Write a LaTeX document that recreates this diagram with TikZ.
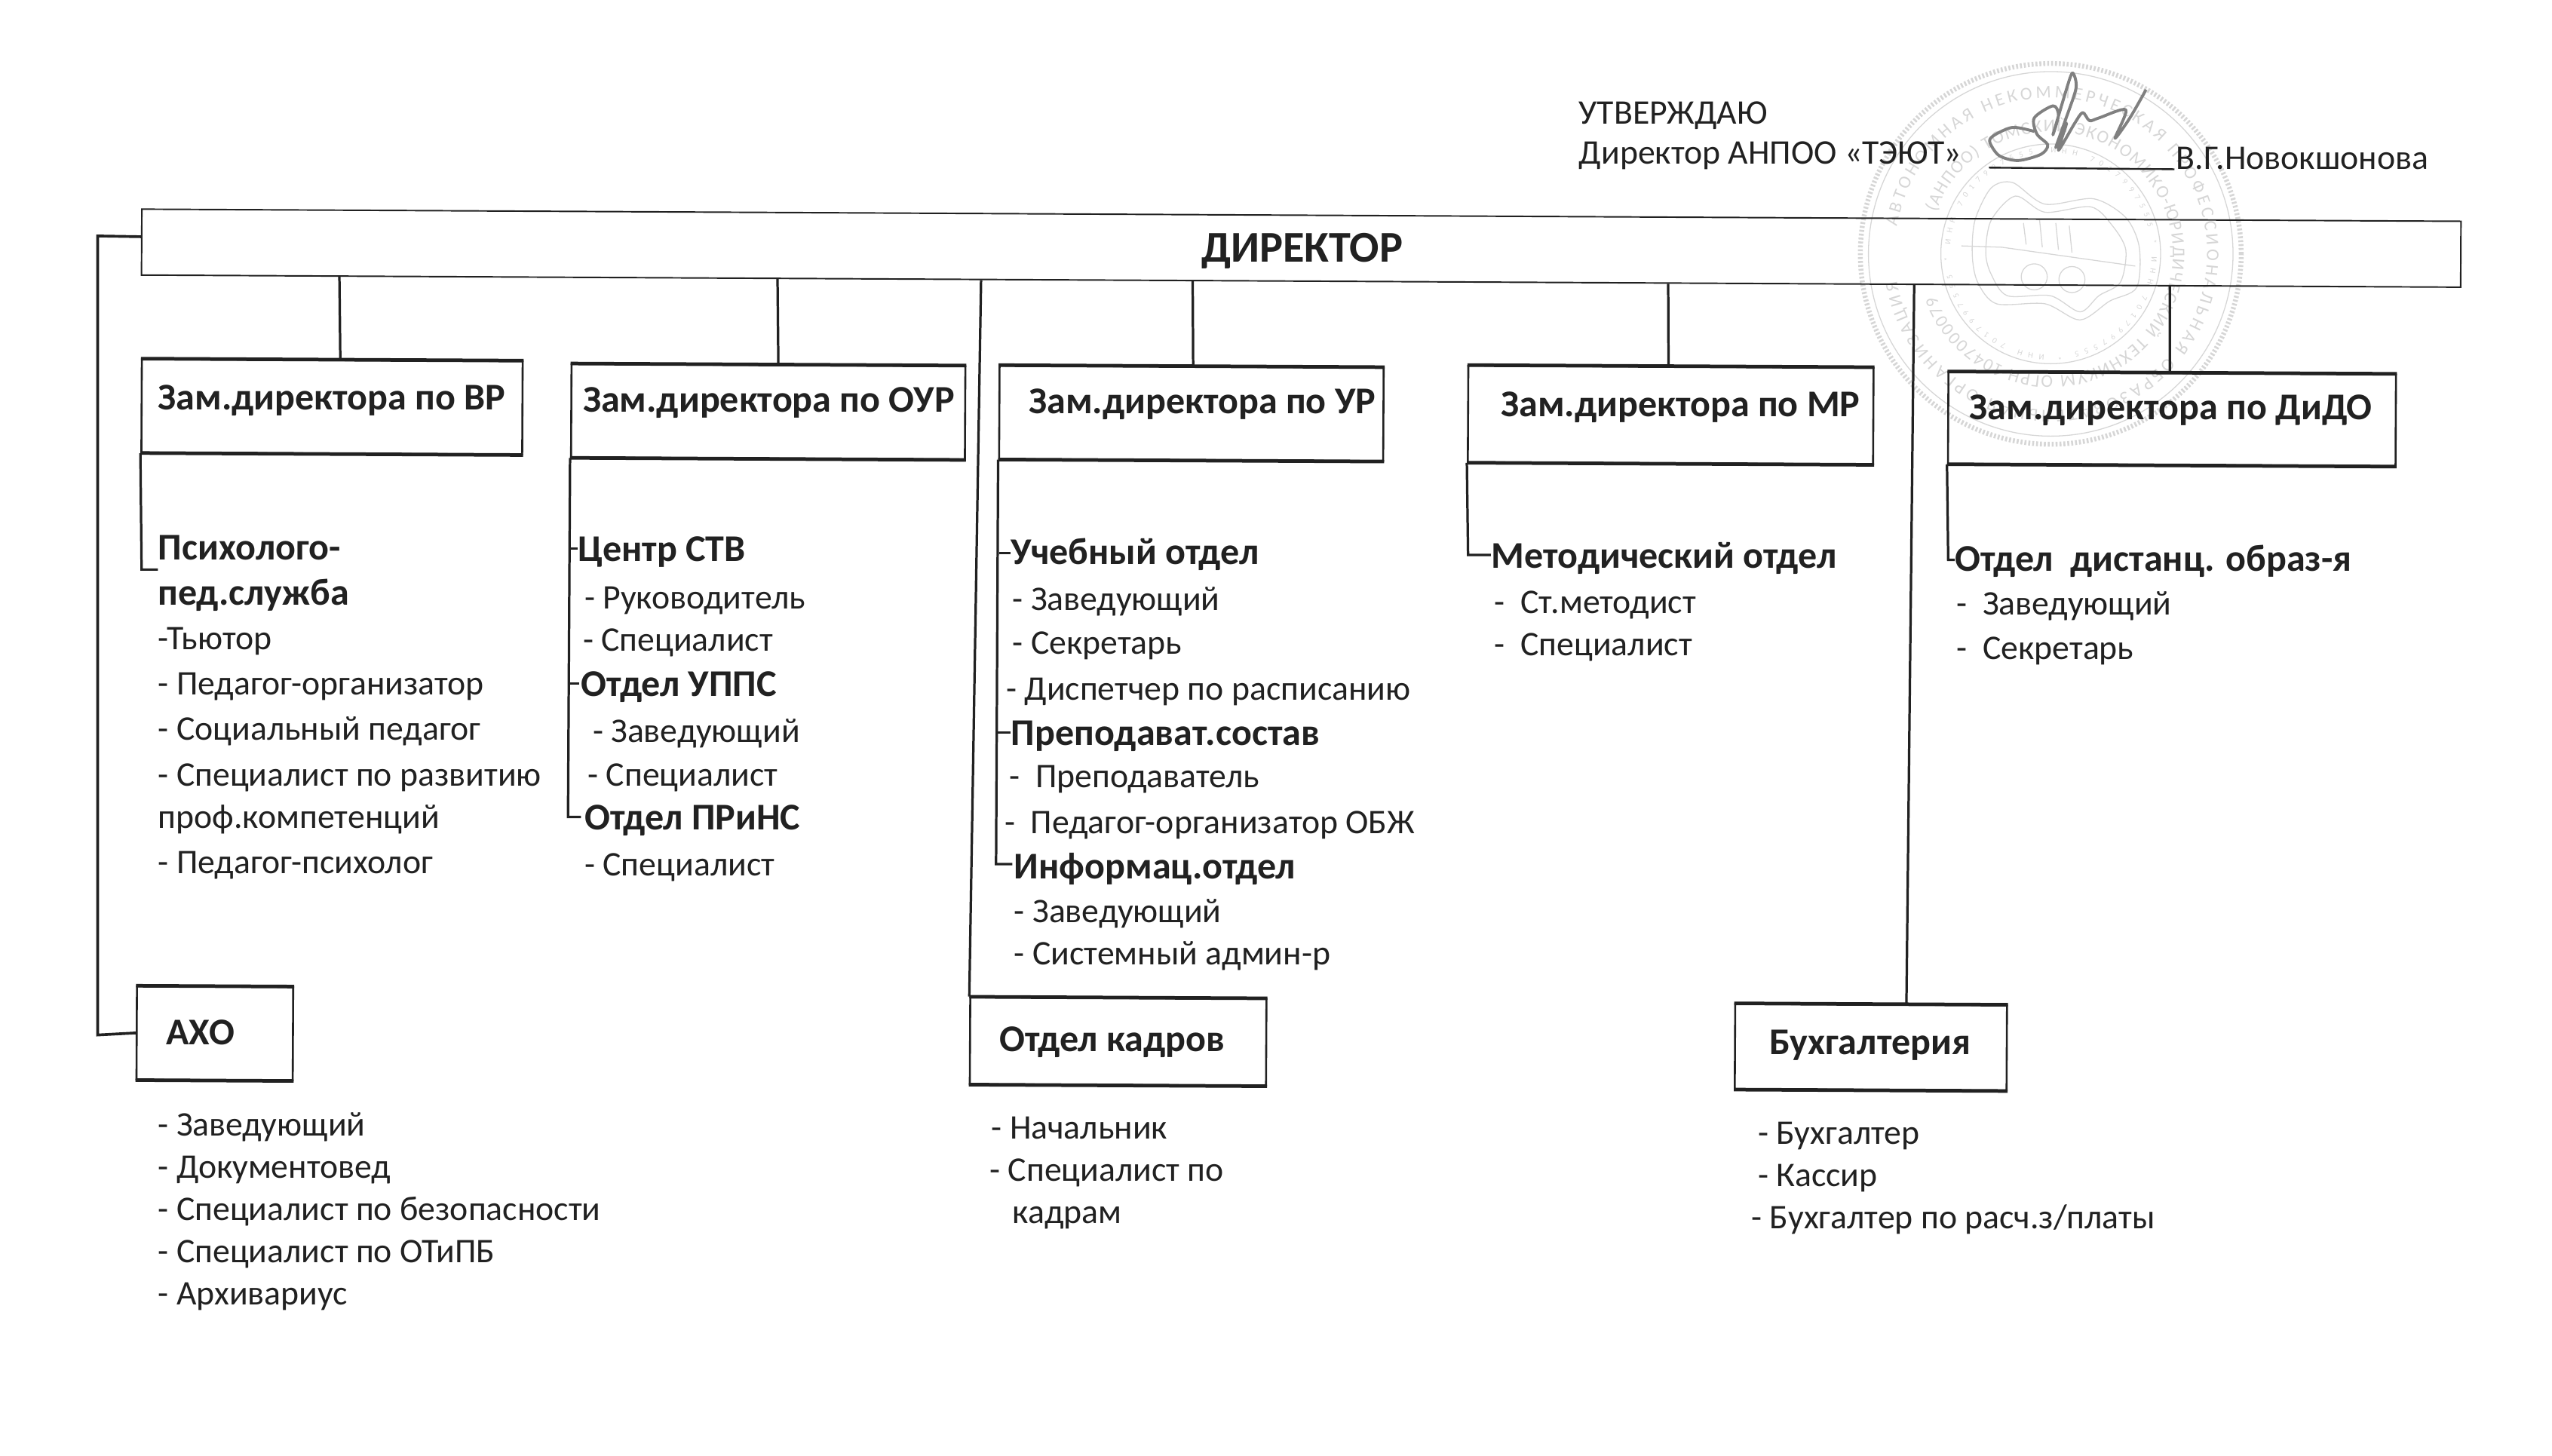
\documentclass[tikz,border=0pt]{standalone}
\usepackage{fontspec}
\setmainfont{Carlito}
\usetikzlibrary{calc,decorations.text}
\definecolor{ink}{gray}{0.13}
\definecolor{stampc}{gray}{0.84}
\definecolor{signc}{gray}{0.5}
\tikzset{
  plain/.style={anchor=base west,inner sep=0pt,yshift=-1pt,text=ink,font=\fontsize{21.2}{24}\selectfont},
  head/.style={anchor=base west,inner sep=0pt,yshift=-1pt,text=ink,font=\fontsize{23.2}{26}\selectfont\bfseries},
  unit/.style={draw=ink,line width=1.2pt,rotate=-0.3,inner sep=0pt},
  link/.style={draw=ink,line width=1.5pt},
  heavy/.style={draw=ink,line width=2pt},
  stampline/.style={draw=stampc,line width=0.6pt},
}
\begin{document}
\begin{tikzpicture}[x=1pt,y=-1pt]
\useasboundingbox (0,0) rectangle (1568,894.7);
% ---- stamp
\begin{scope}[shift={(1260pt,-156pt)},x=1pt,y=1pt]
  \draw[stampc,line width=3pt,dash pattern=on 1.2pt off 1.2pt] (0,0) circle[radius=117pt];
  \draw[stampline] (0,0) circle[radius=112pt];
  \draw[stampline] (0,0) circle[radius=67.5pt];
  \path[decorate,decoration={text along path,text align={fit to path},
     text={|\fontsize{11}{11}\selectfont\color{stampc}|АВТОНОМНАЯ НЕКОММЕРЧЕСКАЯ ПРОФЕССИОНАЛЬНАЯ ОБРАЗОВАТЕЛЬНАЯ ОРГАНИЗАЦИЯ}}]
     (170:96pt) arc[start angle=170,delta angle=-340,radius=96pt];
  \path[decorate,decoration={text along path,text align={fit to path},
     text={|\fontsize{11}{11}\selectfont\color{stampc}|(АНПОО) ТОМСКИЙ ЭКОНОМИКО-ЮРИДИЧЕСКИЙ ТЕХНИКУМ ОГРН 1047000079}}]
     (160:75pt) arc[start angle=160,delta angle=-320,radius=75pt];
  \path[decorate,decoration={text along path,text align={fit to path},
     text={|\fontsize{5}{5}\selectfont\color{stampc}|ИНН 7017997555 * ИНН 7017997555 * ИНН 7017997555 * ИНН 7017997555}}]
     (90:62pt) arc[start angle=90,delta angle=-350,radius=62pt];
\end{scope}
\begin{scope}[shift={(1130.7pt,-27.8pt)},x=0.1655pt,y=-0.1655pt]
  \draw[stampline] plot[smooth cycle] coordinates {(560,530) (640,510) (760,590) (940,570) (1060,640) (1110,750) (1100,900) (1000,950) (890,1020) (760,960) (580,960) (510,880) (490,780) (500,650)};
  \draw[stampline] plot[smooth cycle] coordinates {(650,560) (760,620) (930,600) (1010,670) (1060,760) (1040,880) (960,930) (890,990) (780,930) (620,930) (560,850) (540,770) (560,650)};
  \draw[stampline] (450,745) -- (600,750) -- (1095,820);
  \draw[stampline] (680,660) -- (690,740) (740,650) -- (750,750) (800,660) -- (810,760) (850,670) -- (860,770);
  \draw[stampline] (720,860) circle[radius=8pt] (860,870) circle[radius=8pt];
  \draw[signc,line width=1.8pt,line join=round] plot[smooth] coordinates {(720,320) (640,305) (570,335) (555,360) (590,410) (660,428) (745,405) (770,370) (730,330) (720,270) (790,225) (810,260) (790,330) (850,130) (865,105) (875,160) (835,280) (800,380) (840,290) (810,390) (870,290) (900,250) (925,280) (960,270) (1060,240) (1020,345) (1075,270) (1135,165)};
\end{scope}
% ---- boxes
\node[unit,minimum width=1425pt,minimum height=40.5pt,line width=0.9pt] (dir) at (799.5,152.5) {};
\node[unit,minimum width=234pt,minimum height=57pt] (vr) at (204,250) {};
\node[unit,minimum width=242pt,minimum height=57pt] (our) at (472,253) {};
\node[unit,minimum width=236pt,minimum height=57pt] (ur) at (732,254) {};
\node[unit,minimum width=249pt,minimum height=59pt] (mr) at (1026.5,255) {};
\node[unit,minimum width=275pt,minimum height=56pt] (dido) at (1334.5,257.5) {};
\node[unit,minimum width=96pt,minimum height=57pt] (aho) at (132,635) {};
\node[unit,minimum width=182pt,minimum height=53pt] (kad) at (687,640) {};
\node[unit,minimum width=167pt,minimum height=52pt] (buh) at (1149.5,643.5) {};
\foreach \b in {vr,our,ur,mr,dido,aho,kad,buh}{
  \draw[heavy] (\b.north west) -- (\b.north east);
  \draw[heavy] (\b.south west) -- (\b.south east);
}
% ---- free ends of the branches
\coordinate (dw) at ($(dir.north west)!.42!(dir.south west)$);
\coordinate (dl) at (60,145);
\coordinate (dl2) at (60,636);
\coordinate (bvr) at (87,350);
\coordinate (bvre) at (97,350);
\coordinate (bour) at (349,502);
\coordinate (boure) at (357,502);
\coordinate (tour1) at (350,337);
\coordinate (tour1e) at (355,337);
\coordinate (tour2) at (350,420);
\coordinate (tour2e) at (356,420);
\coordinate (bur) at (612,531);
\coordinate (bure) at (622,531);
\coordinate (tur1) at (614,340);
\coordinate (tur1e) at (621,340);
\coordinate (tur2) at (613,450);
\coordinate (tur2e) at (621,450);
\coordinate (bmr) at (902,341);
\coordinate (bmre) at (916,341);
\coordinate (bdi) at (1197,344);
\coordinate (bdie) at (1201,344);
% ---- connectors
\draw[heavy,line width=1.7pt] (dw) -- (dl) -- (dl2) -- (aho.west);
\draw[link] ($(dir.south west)!.0856!(dir.south east)$) -- ($(vr.north west)!.521!(vr.north east)$);
\draw[link] ($(dir.south west)!.2744!(dir.south east)$) -- ($(our.north west)!.525!(our.north east)$);
\draw[link] ($(dir.south west)!.3621!(dir.south east)$) -- (kad.north west);
\draw[link] ($(dir.south west)!.4533!(dir.south east)$) -- ($(ur.north west)!.504!(ur.north east)$);
\draw[link] ($(dir.south west)!.6582!(dir.south east)$) -- ($(mr.north west)!.494!(mr.north east)$);
\draw[link] ($(dir.south west)!.7642!(dir.south east)$) -- ($(buh.north west)!.629!(buh.north east)$);
\draw[link] ($(dir.south west)!.8744!(dir.south east)$) -- ($(dido.north west)!.4945!(dido.north east)$);
\draw[link] (vr.south west) -- (bvr) -- (bvre);
\draw[link] (our.south west) -- (bour) -- (boure);
\draw[link] (tour1) -- (tour1e);
\draw[link] (tour2) -- (tour2e);
\draw[link] (ur.south west) -- (bur) -- (bure);
\draw[link] (tur1) -- (tur1e);
\draw[link] (tur2) -- (tur2e);
\draw[link] (mr.south west) -- (bmr) -- (bmre);
\draw[link] (dido.south west) -- (bdi) -- (bdie);
% ---- signature line
\coordinate (sa) at (1222,103);
\coordinate (sb) at (1336,104);
\draw[draw=ink,line width=1.1pt] (sa) -- (sb);
% ---- header
\node[plain] (h1) at (970,75) {УТВЕРЖДАЮ};
\node[plain] (h2) at (970,100) {Директор АНПОО «ТЭЮТ»};
\node[plain] (h3) at (1337,103) {В.Г.Новокшонова};
\node[head,font=\fontsize{27}{30}\selectfont\bfseries] (tdir) at (738,160) {ДИРЕКТОР};
% ---- box titles
\node[head] (tvr) at (97,251) {Зам.директора по ВР};
\node[head] (tour) at (358,252) {Зам.директора по ОУР};
\node[head] (tur) at (632,253) {Зам.директора по УР};
\node[head] (tmr) at (922,255) {Зам.директора по МР};
\node[head] (tdi) at (1210,257) {Зам.директора по ДиДО};
\node[head] (taho) at (102,641) {АХО};
\node[head] (tkad) at (614,645) {Отдел кадров};
\node[head] (tbuh) at (1087,647) {Бухгалтерия};
% ---- column VR
\node[head] (a1) at (97,343) {Психолого-};
\node[head] (a2) at (97,371) {пед.служба};
\node[plain] (a3) at (97,398) {-Тьютор};
\node[plain] (a4) at (97,426) {- Педагог-организатор};
\node[plain] (a5) at (97,454) {- Социальный педагог};
\node[plain] (a6) at (97,482) {- Специалист по развитию};
\node[plain] (a7) at (97,508) {проф.компетенций};
\node[plain] (a8) at (97,536) {- Педагог-психолог};
% ---- column OUR
\node[head] (b1) at (355,344) {Центр СТВ};
\node[plain] (b2) at (359,373) {- Руководитель};
\node[plain] (b3) at (358,399) {- Специалист};
\node[head] (b4) at (357,427) {Отдел УППС};
\node[plain] (b5) at (364,455) {- Заведующий};
\node[plain] (b6) at (361,482) {- Специалист};
\node[head] (b7) at (359,509) {Отдел ПРиНС};
\node[plain] (b8) at (359,537) {- Специалист};
% ---- column UR
\node[head] (c1) at (621,346) {Учебный отдел};
\node[plain] (c2) at (622,374) {- Заведующий};
\node[plain] (c3) at (622,401) {- Секретарь};
\node[plain] (c4) at (618,429) {- Диспетчер по расписанию};
\node[head] (c5) at (621,457) {Преподават.состав};
\node[plain] (c6) at (620,483) {-\ \ Преподаватель};
\node[plain] (c7) at (617,511) {-\ \ Педагог-организатор ОБЖ};
\node[head] (c8) at (623,539) {Информац.отдел};
\node[plain] (c9) at (623,566) {- Заведующий};
\node[plain] (c10) at (623,592) {- Системный админ-р};
% ---- column MR
\node[head] (d1) at (916,348) {Методический отдел};
\node[plain] (d2) at (918,376) {-\ \ Ст.методист};
\node[plain] (d3) at (918,402) {-\ \ Специалист};
% ---- column DiDO
\node[head] (e1) at (1201,350) {Отдел\ \ дистанц. образ-я};
\node[plain] (e2) at (1202,377) {-\ \ Заведующий};
\node[plain] (e3) at (1202,404) {-\ \ Секретарь};
% ---- lower lists
\node[plain] (f1) at (97,697) {- Заведующий};
\node[plain] (f2) at (97,723) {- Документовед};
\node[plain] (f3) at (97,749) {- Специалист по безопасности};
\node[plain] (f4) at (97,775) {- Специалист по ОТиПБ};
\node[plain] (f5) at (97,801) {- Архивариус};
\node[plain] (g1) at (609,699) {- Начальник};
\node[plain] (g2) at (608,725) {- Специалист по};
\node[plain] (g3) at (622,751) {кадрам};
\node[plain] (k1) at (1080,702) {- Бухгалтер};
\node[plain] (k2) at (1080,728) {- Кассир};
\node[plain] (k3) at (1076,754) {- Бухгалтер по расч.з/платы};
\end{tikzpicture}
\end{document}
